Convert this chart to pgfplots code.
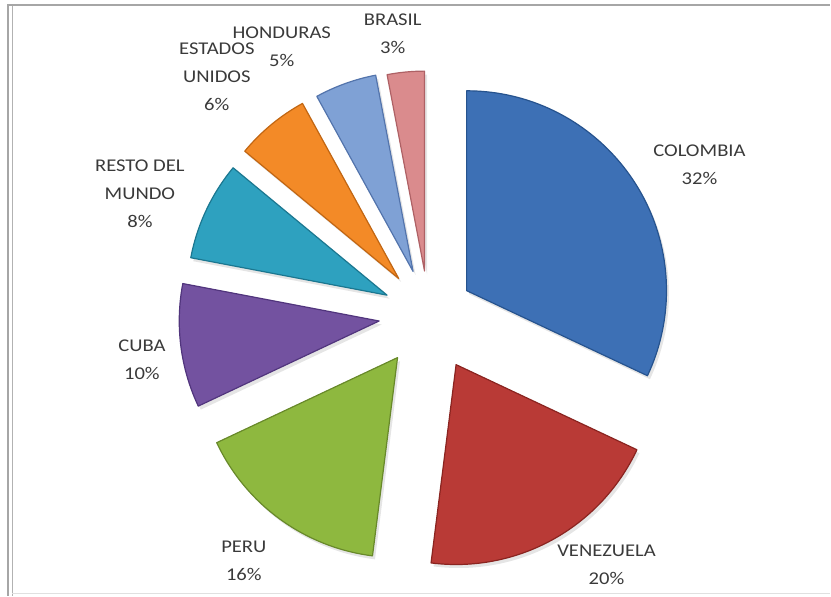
\documentclass[border=0pt]{standalone}
\usepackage{pgfplots}
\usepackage{pgfplotstable}
\pgfplotsset{compat=1.18}
\usepackage{fontspec}
\setmainfont{Carlito}[FakeStretch=1.15]
\definecolor{txt}{HTML}{3A3A3A}
\definecolor{fColombia}{HTML}{3D70B5}
\definecolor{eColombia}{HTML}{26538E}
\definecolor{fVenezuela}{HTML}{B93A36}
\definecolor{eVenezuela}{HTML}{8A2420}
\definecolor{fPeru}{HTML}{8EB83F}
\definecolor{ePeru}{HTML}{68892A}
\definecolor{fCuba}{HTML}{7352A0}
\definecolor{eCuba}{HTML}{51357D}
\definecolor{fResto}{HTML}{2EA1BF}
\definecolor{eResto}{HTML}{1B7790}
\definecolor{fUsa}{HTML}{F38A27}
\definecolor{eUsa}{HTML}{C26612}
\definecolor{fHonduras}{HTML}{7FA1D5}
\definecolor{eHonduras}{HTML}{5374AC}
\definecolor{fBrasil}{HTML}{DA8B8D}
\definecolor{eBrasil}{HTML}{AE6165}

\pgfplotstableread{
name       value explode fc         ec
COLOMBIA   32    45      fColombia  eColombia
VENEZUELA  20    57      fVenezuela eVenezuela
PERU       16    53      fPeru      ePeru
CUBA       10    50      fCuba      eCuba
RESTO      8     46      fResto     eResto
USA        6     47      fUsa       eUsa
HONDURAS   5     46      fHonduras  eHonduras
BRASIL     3     44      fBrasil    eBrasil
}\piedata

\begin{document}
\begin{tikzpicture}
\begin{axis}[x=1bp, y=1bp, xmin=0, xmax=831, ymin=0, ymax=596,
  hide axis, scale only axis, clip=false]
\path (axis cs:0,0) rectangle (axis cs:831,596);
% frame
\draw[black!35, line width=1.3bp] (axis cs:8,0) -- (axis cs:8,591) -- (axis cs:831,591);
\draw[black!30, line width=1.1bp] (axis cs:12.5,0) -- (axis cs:12.5,590);
\draw[black!12, line width=1.2bp] (axis cs:12,2) -- (axis cs:831,2);
% pie
\def\cum{0}
\pgfplotsforeachungrouped \i in {0,...,7}{%
  \pgfplotstablegetelem{\i}{value}\of\piedata \let\v\pgfplotsretval
  \pgfplotstablegetelem{\i}{explode}\of\piedata \let\ex\pgfplotsretval
  \pgfplotstablegetelem{\i}{fc}\of\piedata \let\fc\pgfplotsretval
  \pgfplotstablegetelem{\i}{ec}\of\piedata \let\ec\pgfplotsretval
  \pgfmathsetmacro\sa{90-3.6*\cum}%
  \pgfmathsetmacro\ea{90-3.6*(\cum+\v)}%
  \pgfmathsetmacro\ma{(\sa+\ea)/2}%
  \pgfmathsetmacro\cum{\cum+\v}%
  \edef\temp{%
    \noexpand\fill[black, opacity=0.10]
      ([shift={(\ma:\ex bp)},xshift=2.5bp,yshift=-3.5bp]axis cs:429,281) -- ++(\sa:200bp)
      arc[start angle=\sa, end angle=\ea, radius=200bp] -- cycle;
    \noexpand\fill[\fc, draw=\ec, line width=1.2bp, line join=round]
      ([shift={(\ma:\ex bp)}]axis cs:429,281) -- ++(\sa:200bp)
      arc[start angle=\sa, end angle=\ea, radius=200bp] -- cycle;
  }%
  \temp
}
% labels
\tikzset{lab/.style={align=center, text=txt, font=\fontsize{18}{28}\selectfont, inner sep=0pt}}
\node[lab] at (axis cs:700,431.5) {COLOMBIA\\32\%};
\node[lab] at (axis cs:607,30.5) {VENEZUELA\\20\%};
\node[lab] at (axis cs:244,34.5) {PERU\\16\%};
\node[lab] at (axis cs:142,236) {CUBA\\10\%};
\node[lab] at (axis cs:140,402) {RESTO DEL\\MUNDO\\8\%};
\node[lab] at (axis cs:217,519) {ESTADOS\\UNIDOS\\6\%};
\node[lab] at (axis cs:282,549) {HONDURAS\\5\%};
\node[lab] at (axis cs:393,562) {BRASIL\\3\%};
\end{axis}
\end{tikzpicture}
\end{document}
